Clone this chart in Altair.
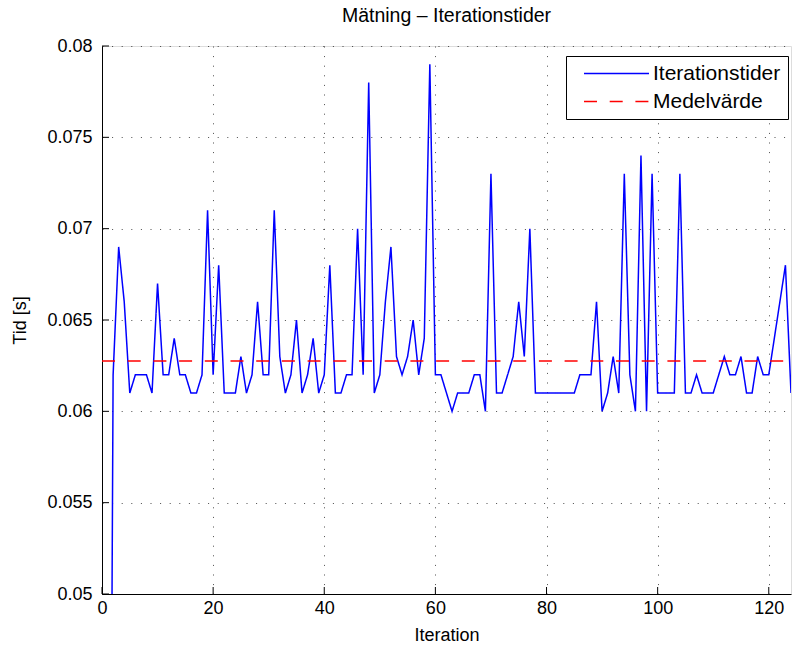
import altair as alt
import pandas as pd

# Iteration index and measured time per iteration (milliseconds)
iterations = list(range(1, 125))
times_ms = [
    0, 62, 69, 66, 61, 62, 62, 62, 61, 67,
    62, 62, 64, 62, 62, 61, 61, 62, 71, 62,
    68, 61, 61, 61, 63, 61, 62, 66, 62, 62,
    71, 63, 61, 62, 65, 61, 62, 64, 61, 62,
    68, 61, 61, 62, 62, 70, 62, 78, 61, 62,
    66, 69, 63, 62, 63, 65, 62, 64, 79, 62,
    62, 61, 60, 61, 61, 61, 62, 62, 60, 73,
    61, 61, 62, 63, 66, 63, 70, 61, 61, 61,
    61, 61, 61, 61, 61, 62, 62, 62, 66, 60,
    61, 63, 61, 73, 62, 60, 74, 60, 73, 61,
    61, 61, 61, 73, 61, 61, 62, 61, 61, 61,
    62, 63, 62, 62, 63, 61, 61, 63, 62, 62,
    64, 66, 68, 61,
]
times_s = [t / 1000 for t in times_ms]
mean_s = sum(times_s) / len(times_s)

x_ticks = [0, 20, 40, 60, 80, 100, 120]
y_ticks = [0.05, 0.055, 0.06, 0.065, 0.07, 0.075, 0.08]
x_domain = [0, 124]
y_domain = [0.05, 0.08]

series_names = ["Iterationstider", "Medelvärde"]
series_colors = ["#0000ff", "#ff0000"]
series_dash = [[1, 0], [13, 12.7]]

FONT = "Liberation Sans"
W, H = 689, 548

line_df = pd.DataFrame({"iter": iterations, "tid": times_s, "serie": series_names[0]})
mean_df = pd.DataFrame({"iter": x_domain, "tid": [mean_s, mean_s], "serie": series_names[1]})
xt_df = pd.DataFrame({"v": x_ticks})
yt_df = pd.DataFrame({"v": y_ticks})

x_scale = alt.Scale(domain=x_domain, nice=False, zero=False)
y_scale = alt.Scale(domain=y_domain, nice=False, zero=False)

x_axis = alt.Axis(
    values=x_ticks, format="d", title="Iteration", grid=True, labelFlush=False,
    gridDash=[1, 8.6], gridColor="#000000", gridOpacity=0.7, gridWidth=1,
    domainColor="#000000", domainWidth=1, ticks=False, tickSize=0,
    labelFont=FONT, labelFontSize=18, labelColor="#000000", labelPadding=5,
    titleFont=FONT, titleFontSize=18, titleFontWeight="normal", titleColor="#000000",
    titleX=W / 2, titleY=41, titleBaseline="middle", titleAnchor="middle",
)
y_axis = alt.Axis(
    values=y_ticks, title="Tid [s]", grid=True, labelFlush=False,
    labelExpr="format(datum.value, '.3~f')",
    gridDash=[1, 8.6], gridColor="#000000", gridOpacity=0.7, gridWidth=1,
    domainColor="#000000", domainWidth=1, ticks=False, tickSize=0,
    labelFont=FONT, labelFontSize=18, labelColor="#000000", labelPadding=10,
    titleFont=FONT, titleFontSize=18, titleFontWeight="normal", titleColor="#000000",
    titleX=-82, titleY=H / 2, titleAngle=-90, titleBaseline="middle", titleAnchor="middle",
)

color_scale = alt.Scale(domain=series_names, range=series_colors)
dash_scale = alt.Scale(domain=series_names, range=series_dash)
legend = alt.Legend(
    title=None, orient="none", legendX=464, legendY=10,
    symbolType="M-1,0H9", symbolSize=169, symbolStrokeWidth=1.5,
    symbolOffset=7, labelOffset=52, rowPadding=6,
    labelFont=FONT, labelFontSize=21, labelColor="#000000",
    padding=7, strokeColor="#000000", fillColor="#ffffff", cornerRadius=0,
)

base_enc = dict(
    x=alt.X("iter:Q", scale=x_scale, axis=x_axis),
    y=alt.Y("tid:Q", scale=y_scale, axis=y_axis),
    color=alt.Color("serie:N", scale=color_scale, legend=legend),
    strokeDash=alt.StrokeDash("serie:N", scale=dash_scale, legend=legend),
)

times_line = alt.Chart(line_df).mark_line(strokeWidth=1.5, clip=True).encode(**base_enc)
mean_line = alt.Chart(mean_df).mark_line(strokeWidth=1.5, clip=True).encode(**base_enc)

# inward tick marks on the left and bottom axes
y_tick_marks = alt.Chart(yt_df).mark_rule(color="#000000", strokeWidth=1).encode(
    y=alt.Y("v:Q", scale=y_scale), x=alt.value(0), x2=alt.value(7)
)
x_tick_marks = alt.Chart(xt_df).mark_rule(color="#000000", strokeWidth=1).encode(
    x=alt.X("v:Q", scale=x_scale), y=alt.value(H), y2=alt.value(H - 7)
)

chart = alt.layer(times_line, mean_line, y_tick_marks, x_tick_marks).properties(
    width=W, height=H,
    title=alt.TitleParams("Mätning – Iterationstider", font=FONT, fontSize=19.5,
                          fontWeight="normal", color="#000000", offset=11),
    padding={"left": 102, "top": 46, "right": 1, "bottom": 54},
    autosize=alt.AutoSizeParams(type="none"),
).configure_view(stroke=None).configure(background="#ffffff")

chart.save("out.html", embed_options={"renderer": "svg", "actions": False})
